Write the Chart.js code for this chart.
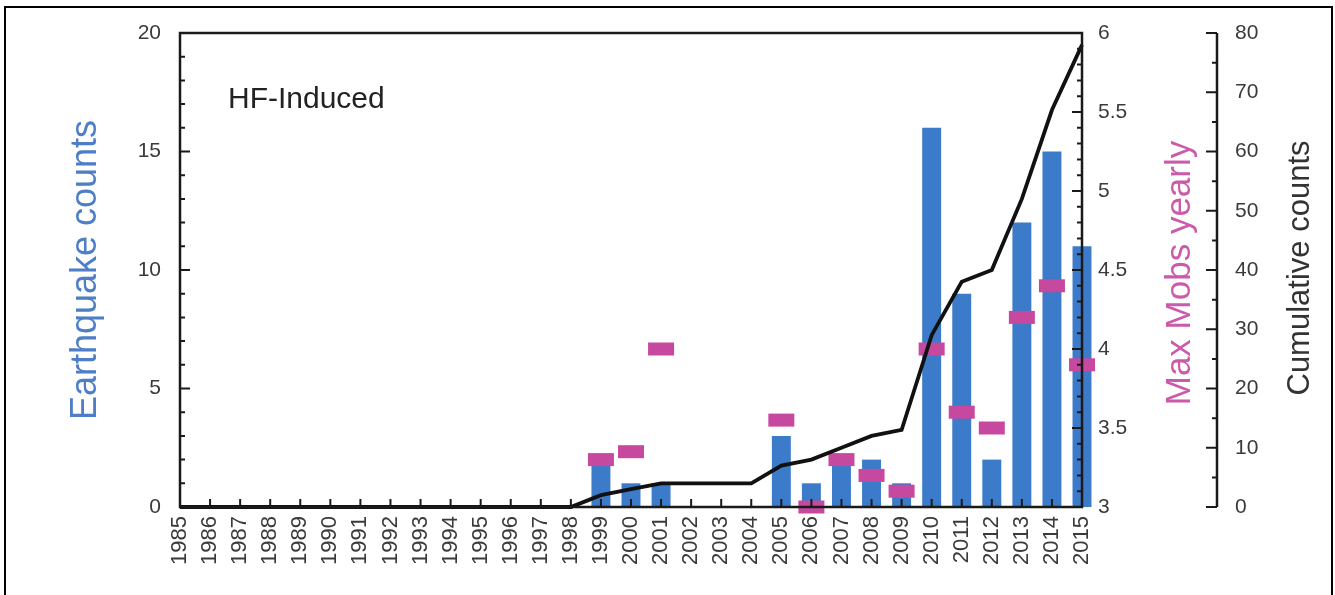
<!DOCTYPE html>
<html><head><meta charset="utf-8">
<script src="https://cdn.jsdelivr.net/npm/chart.js@4/dist/chart.umd.min.js"></script>
<style>
html,body{margin:0;padding:0;background:#fff;overflow:hidden}
#wrap{position:relative;width:1335px;height:595px}
#frame{position:absolute;left:4px;top:6px;width:1325px;height:600px;border:2px solid #000;border-bottom:none;pointer-events:none}
canvas{position:absolute;left:0;top:0}
</style></head><body>
<div id="wrap"><canvas id="c" width="1335" height="595"></canvas><div id="frame"></div></div>
<script>
const years = ['1985','1986','1987','1988','1989','1990','1991','1992','1993','1994','1995','1996','1997','1998','1999','2000','2001','2002','2003','2004','2005','2006','2007','2008','2009','2010','2011','2012','2013','2014','2015'];
const earthquakeCounts = [0,0,0,0,0,0,0,0,0,0,0,0,0,0, 2,1,1,0,0,0,3,1,2,2,1,16,9,2,12,15,11];
const maxMobsYearly = [null,null,null,null,null,null,null,null,null,null,null,null,null,null, 3.3,3.35,4.0,null,null,null,3.55,3.0,3.3,3.2,3.1,4.0,3.6,3.5,4.2,4.4,3.9];
const cumulativeCounts = [0,0,0,0,0,0,0,0,0,0,0,0,0,0, 2,3,4,4,4,4,7,8,10,12,13,29,38,40,52,67,78];
const countTicks = [0,5,10,15,20];
const mobsTicks = [3,3.5,4,4.5,5,5.5,6];
const cumulativeTicks = [0,10,20,30,40,50,60,70,80];

const FONT = "'Liberation Sans', Arial, Helvetica, sans-serif";
const BLUE = '#3c7bc9';
const MAGENTA = '#c6489f';
const TICKCOLOR = '#3a3a3a';
const setTicks = arr => scale => { scale.ticks = arr.map(v => ({value: v})); };
const plainLabel = v => String(v);

const decor = {
  id: 'decor',
  afterDraw(chart) {
    const {ctx, chartArea: a, scales: s} = chart;
    ctx.save();
    ctx.strokeStyle = '#1a1a1a';
    ctx.lineWidth = 2.5;
    ctx.strokeRect(a.left, a.top, a.right - a.left, a.bottom - a.top);
    const cx = s.y2.left;
    ctx.beginPath();
    ctx.moveTo(cx, s.y2.getPixelForValue(0));
    ctx.lineTo(cx, s.y2.getPixelForValue(80));
    ctx.stroke();
    ctx.lineWidth = 2;
    ctx.beginPath();
    years.forEach((y, i) => { const px = s.x.getPixelForValue(i); ctx.moveTo(px, a.bottom); ctx.lineTo(px, a.bottom - 8); });
    for (let v = 0; v <= 20; v++) { const py = s.y.getPixelForValue(v); const L = v % 5 === 0 ? 10 : 5; ctx.moveTo(a.left, py); ctx.lineTo(a.left + L, py); }
    for (let k = 30; k <= 60; k++) { const py = s.y1.getPixelForValue(k / 10); const L = k % 5 === 0 ? 10 : 5; ctx.moveTo(a.right, py); ctx.lineTo(a.right - L, py); }
    for (let v = 0; v <= 80; v += 5) { const py = s.y2.getPixelForValue(v); const L = v % 10 === 0 ? 11 : 5; ctx.moveTo(cx, py); ctx.lineTo(cx - L, py); }
    ctx.stroke();
    const vtext = (t, x, y, size, color) => {
      ctx.save(); ctx.translate(x, y); ctx.rotate(-Math.PI / 2);
      ctx.font = size + 'px ' + FONT; ctx.fillStyle = color;
      ctx.textAlign = 'center'; ctx.textBaseline = 'middle';
      ctx.fillText(t, 0, 0); ctx.restore();
    };
    vtext('Earthquake counts', 86, 270, 36, '#4d7ec6');
    vtext('Max Mobs yearly', 1180, 273, 35, '#cc5aab');
    vtext('Cumulative counts', 1300, 268, 31, '#333333');
    ctx.font = '30px ' + FONT; ctx.fillStyle = '#222'; ctx.textAlign = 'left'; ctx.textBaseline = 'middle';
    ctx.fillText('HF-Induced', 228, 100);
    ctx.restore();
  }
};

new Chart(document.getElementById('c'), {
  data: {
    labels: years,
    datasets: [
      { type: 'line', label: 'Cumulative counts', data: cumulativeCounts, yAxisID: 'y2', borderColor: '#111', borderWidth: 3.8, pointRadius: 0, tension: 0, order: 0, clip: false },
      { type: 'line', label: 'Max Mobs yearly', data: maxMobsYearly, yAxisID: 'y1', showLine: false, pointStyle: 'line', pointRadius: 13, pointHoverRadius: 13, pointBorderWidth: 13, pointBorderColor: MAGENTA, pointBackgroundColor: MAGENTA, clip: false, order: 1 },
      { type: 'bar', label: 'Earthquake counts', data: earthquakeCounts, yAxisID: 'y', backgroundColor: BLUE, barPercentage: 0.63, categoryPercentage: 1, order: 2, clip: false }
    ]
  },
  options: {
    responsive: false, animation: false, devicePixelRatio: 1,
    layout: { padding: { top: 33, left: 0, right: 0, bottom: 0 } },
    plugins: { legend: { display: false }, tooltip: { enabled: false } },
    scales: {
      x: { type: 'category', offset: false, grid: { display: false, drawTicks: false }, border: { display: false },
           ticks: { autoSkip: false, minRotation: 90, maxRotation: 90, padding: 9, color: TICKCOLOR, font: { family: FONT, size: 22 } },
           afterFit: sc => { sc.height = 88; } },
      y: { position: 'left', min: 0, max: 20, grid: { display: false, drawTicks: false }, border: { display: false },
           afterBuildTicks: setTicks(countTicks),
           ticks: { padding: 19, color: TICKCOLOR, callback: plainLabel, font: { family: FONT, size: 21 } },
           afterFit: sc => { sc.width = 180; } },
      y1: { position: 'right', min: 3, max: 6, grid: { display: false, drawTicks: false }, border: { display: false },
           afterBuildTicks: setTicks(mobsTicks),
           ticks: { padding: 16, color: TICKCOLOR, callback: plainLabel, font: { family: FONT, size: 21 } },
           afterFit: sc => { sc.width = 135; } },
      y2: { position: 'right', min: 0, max: 80, grid: { display: false, drawTicks: false }, border: { display: false },
           afterBuildTicks: setTicks(cumulativeTicks),
           ticks: { padding: 18, color: TICKCOLOR, callback: plainLabel, font: { family: FONT, size: 21 } },
           afterFit: sc => { sc.width = 118; } }
    }
  },
  plugins: [decor]
});
</script>
</body></html>
